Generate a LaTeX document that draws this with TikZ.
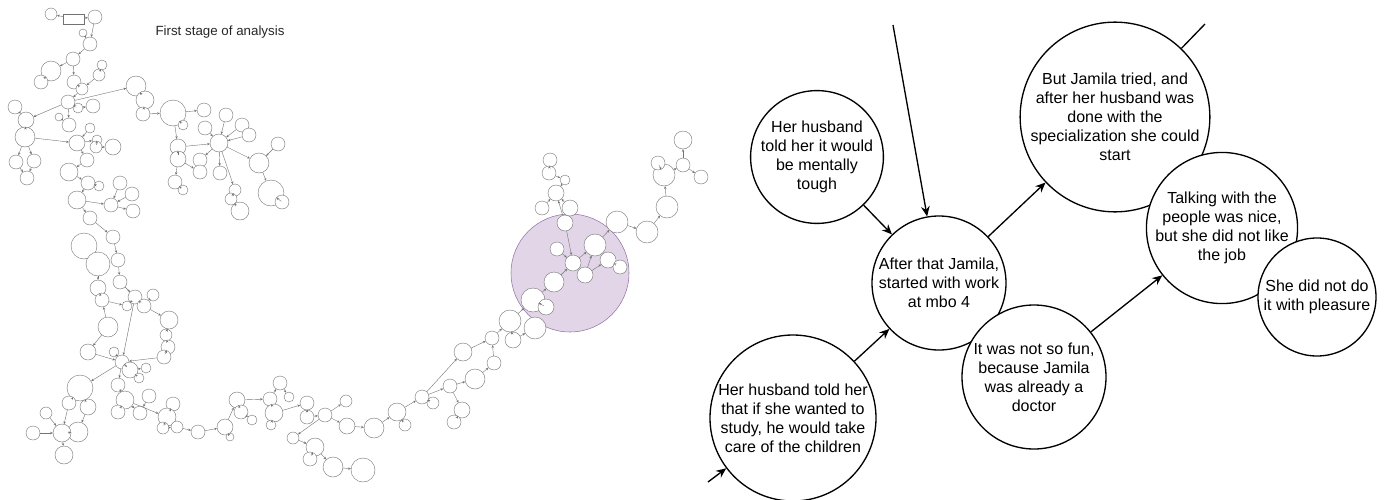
\documentclass[tikz,border=0pt]{standalone}
\usepackage{fontspec}
\setmainfont{Liberation Sans}
\usetikzlibrary{arrows.meta}
\definecolor{lilac}{RGB}{225,213,231}
\definecolor{lilacline}{RGB}{150,115,166}
\tikzset{
    bubble/.style = {circle, draw=black, line width=1pt, fill=white, align=center, inner sep=0pt, font=\fontsize{12}{14.25}\selectfont},
    minibubble/.style = {circle, draw=black!55, line width=0.3pt, fill=white, inner sep=0pt},
    minibox/.style = {rectangle, draw=black!55, line width=0.3pt, fill=white, inner sep=0pt, minimum width=15.75pt, minimum height=7.5pt},
    zoomarea/.style = {circle, draw=lilacline, line width=0.4pt, fill=lilac, inner sep=0pt, minimum size=88.5pt},
    edgen/.style = {-{Stealth[length=7.5pt,width=6.5pt]}, line width=1pt},
    edgeo/.style = {line width=1pt}, % no head
    edgem/.style = {-{Stealth[length=2pt,width=1.8pt]}, line width=0.3pt, draw=black!55}
}
\begin{document}
\begin{tikzpicture}[x=0.75pt, y=-0.75pt]
  \useasboundingbox (0,0) rectangle (1386,500);
  % overview of the first stage
  \node[font=\fontsize{10}{12}\selectfont, text=black!85] (title) at (220,32) {First stage of analysis};
  \node[zoomarea] (focus) at (570,273) {};
  \node[minibox] (m2) at (73.5,19) {};
  \foreach \n/\x/\y/\r in {
    1/51/14/6, 3/95/17/7, 4/83/33/4, 5/90/44/7, 6/73/59/7, 7/51/71/10, 8/102/65/5,
    9/99/75/6, 10/41/82/7, 11/74/82/7, 12/82/89/6, 13/136/86/10, 14/68/102/7,
    15/145/100/9, 16/15/107/7, 17/78/108/5, 18/93/106/7, 19/143/114/7, 20/173/113/13,
    21/204/110/7, 22/26/120/8, 23/59/117/4, 24/69/125/7, 25/90/128/5, 26/183/125/5,
    27/226/115/7, 28/205/128/7, 29/242/125/7, 30/25/137/10, 31/249/135/7, 32/219/143/9,
    33/77/143/8, 34/97/140/5, 35/96/147/6, 36/113/147/8, 37/178/147/8, 38/278/144/7,
    39/16/162/7, 40/34/161/7, 41/87/160/7, 42/178/159/8, 43/200/160/7, 44/259/163/10,
    45/69/172/9, 46/200/172/7, 47/27/178/7, 48/220/173/7, 49/175/182/7, 50/88/183/7,
    51/99/186/5, 52/120/183/7, 53/183/190/5, 54/271/193/13, 55/235/190/6, 56/77/200/9,
    57/132/194/7, 58/111/205/7, 59/231/199/6, 60/282/202/7, 61/133/211/7, 62/240/211/9,
    63/90/218/7, 64/113/237/7, 65/84/246/13, 66/118/260/7, 67/98/264/12, 68/120/282/7,
    69/98/288/8, 70/135/297/7, 71/153/295/6, 72/102/300/7, 73/127/306/5, 74/144/306/7,
    75/108/327/10, 76/169/320/9, 77/166/335/6, 78/168/347/7, 79/88/352/8, 80/114/352/5,
    81/164/357/7, 82/122/362/7, 83/130/370/8, 84/146/368/5, 85/139/378/5, 86/80/388/13,
    87/118/385/7, 88/149/396/7, 89/69/403/7, 90/88/407/8, 91/125/400/9, 92/118/412/7,
    93/140/413/7, 94/173/404/7, 95/167/417/9, 96/46/413/6, 97/78/432/10, 98/62/433/9,
    99/33/433/7, 100/163/428/6, 101/177/427/6, 102/198/432/7, 103/225/427/8, 104/230/437/4,
    105/64/455/9, 106/237/400/8, 107/241/412/7, 108/252/420/5, 109/270/399/7, 110/280/383/7,
    111/289/397/5, 112/274/413/9, 113/271/425/5, 114/307/403/7, 115/307/417/7, 116/325/415/7,
    117/346/401/6, 118/347/426/8, 119/293/438/6, 120/315/447/9, 121/310/459/7, 122/333/467/10,
    125/374/428/10, 126/397/412/9, 127/405/425/6, 128/422/397/7, 129/433/403/6,
    130/463/352/9, 131/450/386/7, 132/475/379/10, 133/462/410/8, 134/454/422/7,
    135/492/338/7, 136/494/363/7, 137/510/321/11, 138/513/340/8, 139/535/328/11,
    140/533/300/12, 141/546/307/8, 142/554/282/10, 143/557/249/7, 144/573/263/8,
    145/565/223/8, 146/585/275/8, 147/595/245/11, 148/608/260/8, 149/620/267/7,
    150/617/222/11, 151/647/232/11, 152/667/207/11, 153/664/175/11, 154/658/163/7,
    155/683/165/7, 156/701/177/7, 157/683/140/9, 158/550/160/7, 159/549/173/7,
    160/565/180/5, 161/556/193/8, 162/542/208/7, 163/570/208/8, 164/363/470/12}
    \node[minibubble, minimum size=\r*1.5pt] (m\n) at (\x,\y) {};
  \foreach \a/\b in {
    2/1, 2/3, 3/5, 4/5, 5/6, 6/7, 7/10, 6/11, 8/9, 9/12, 11/12, 12/14, 14/13, 13/15,
    15/19, 19/20, 20/21, 20/26, 20/37, 14/22, 16/22, 22/30, 14/17, 17/18, 14/24, 23/24,
    30/33, 25/33, 33/34, 34/35, 35/36, 33/41, 30/39, 30/40, 39/47, 40/47, 37/32, 27/32,
    28/32, 29/32, 31/32, 32/43, 32/48, 32/55, 32/44, 38/44, 44/54, 54/60, 37/42, 42/46,
    42/49, 49/53, 55/59, 59/62, 41/45, 45/50, 50/51, 50/56, 52/58, 56/58, 57/58, 58/61,
    56/63, 63/64, 64/66, 66/68, 67/69, 68/70, 69/72, 72/73, 73/70, 70/74, 71/74, 74/76,
    76/77, 77/78, 78/81, 70/82, 75/72, 75/79, 79/82, 80/82, 81/82, 82/83, 83/84, 83/85,
    82/86, 82/87, 87/91, 91/92, 91/93, 88/93, 91/95, 94/95, 95/100, 100/101, 101/102,
    102/103, 103/104, 103/106, 106/107, 107/108, 106/109, 109/110, 110/111, 109/112,
    112/113, 112/114, 114/115, 115/116, 116/117, 116/118, 116/119, 119/120, 120/121,
    120/122, 86/89, 86/90, 89/98, 90/97, 97/98, 96/98, 99/98, 98/105,
    118/125, 125/126, 126/127, 126/128, 128/129, 128/130, 128/131, 131/132, 131/133,
    133/134, 132/136, 136/135, 130/135, 135/137, 137/138, 137/140, 138/139, 140/141,
    140/142, 142/144, 143/144, 145/144, 144/147, 146/147, 147/150, 146/148, 148/149,
    150/151, 151/152, 152/153, 153/154, 153/155, 155/157, 155/156, 145/161, 162/161,
    163/161, 160/161, 159/160, 158/159, 122/164}
    \draw[edgem] (m\a) -- (m\b);

  % zoomed part
  \node[bubble, minimum size=88.5pt] (toughA) at (817,157) {Her husband\\told her it would\\be mentally\\tough};
  \node[bubble, minimum size=100.5pt] (mbo) at (939,283) {After that Jamila,\\started with work\\at mbo 4};
  \node[bubble, minimum size=124.5pt] (children) at (793,418) {Her husband told her\\that if she wanted to\\study, he would take\\care of the children};
  \node[bubble, minimum size=108pt] (notfun) at (1034,377) {It was not so fun,\\because Jamila\\was already a\\doctor};
  \node[bubble, minimum size=132pt] (tried) at (1115,117) {But Jamila tried, and\\after her husband was\\done with the\\specialization she could\\start};
  \node[bubble, minimum size=111pt] (talking) at (1222,228) {Talking with the\\people was nice,\\but she did not like\\the job};
  \node[bubble, minimum size=88.5pt] (pleasure) at (1317,297) {She did not do\\it with pleasure};
  \coordinate (fromTop) at (893,25);
  \coordinate (fromCorner) at (708,482);
  \coordinate (toTop) at (1205,24);

  \draw[edgen] (fromTop) -- (mbo);
  \draw[edgen] (fromCorner) -- (children);
  \draw[edgen] (toughA) -- (mbo);
  \draw[edgen] (children) -- (mbo);
  \draw[edgen] (mbo) -- (tried);
  \draw[edgen] (notfun) -- (talking);
  \draw[edgeo] (tried) -- (toTop);
\end{tikzpicture}
\end{document}
